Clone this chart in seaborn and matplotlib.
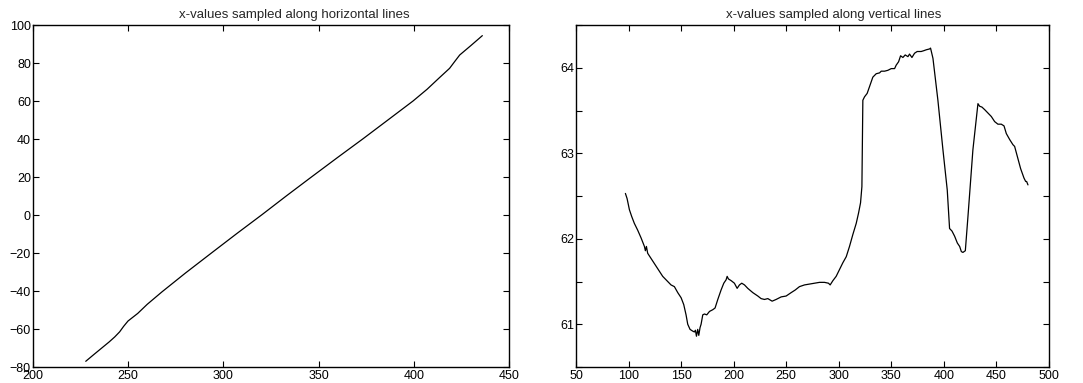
import numpy as np
import pandas as pd
import matplotlib
matplotlib.use("Agg")
import matplotlib.pyplot as plt
import seaborn as sns

# Samples along horizontal lines: column position vs. x-value
horiz_pos = [227.7, 232.0, 236.0, 240.0, 242.9, 245.5, 247.6, 249.9, 255.0, 260.0,
             267.8, 280.0, 294.5, 307.0, 320.3, 333.0, 345.3, 360.0, 373.3, 386.0,
             399.6, 407.0, 413.6, 418.8, 421.5, 424.1, 430.0, 436.0]
horiz_val = [-77.0, -73.4, -70.1, -66.8, -64.2, -61.5, -58.6, -55.8, -51.8, -47.0,
             -40.4, -30.6, -19.4, -9.8, 0.2, 10.0, 19.3, 30.3, 40.1, 49.7,
             60.0, 66.2, 72.4, 77.2, 80.8, 84.2, 89.2, 94.4]

# Samples along vertical lines: row position vs. x-value
vert_pos = [97.0, 98.6, 100.8, 103.0, 105.5, 108.7, 111.9, 115.1, 116.0, 117.0,
            118.2, 123.0, 127.8, 132.5, 137.3, 140.4, 143.6, 146.8, 150.0, 152.5,
            154.7, 156.3, 158.5, 161.0, 162.6, 163.6, 164.6, 165.8, 166.8, 168.0,
            169.0, 170.6, 172.2, 174.4, 177.0, 180.1, 182.3, 184.9, 188.0, 190.6,
            192.8, 193.8, 195.0, 197.6, 200.7, 203.3, 205.5, 207.7, 210.3, 213.4,
            218.2, 223.0, 226.1, 229.3, 232.5, 236.6, 240.4, 245.2, 249.9, 254.7,
            258.5, 262.6, 267.4, 272.2, 276.9, 281.7, 286.4, 290.2, 291.8, 294.4,
            297.5, 300.7, 303.9, 307.1, 310.2, 313.4, 316.6, 318.8, 320.7, 322.0,
            322.9, 324.5, 327.0, 329.3, 332.4, 335.6, 338.8, 340.4, 343.6, 346.7,
            349.9, 353.1, 354.6, 356.9, 358.8, 361.0, 363.2, 365.8, 367.3, 369.6,
            372.1, 374.6, 378.4, 381.0, 383.2, 386.4, 387.3, 389.6, 394.3, 399.1,
            403.2, 405.4, 407.7, 410.2, 412.8, 415.0, 416.6, 418.1, 420.4, 422.9,
            427.6, 432.4, 434.0, 436.2, 438.8, 441.9, 445.1, 448.3, 451.4, 454.6,
            457.2, 459.4, 462.6, 465.7, 467.3, 469.9, 473.0, 476.2, 477.8, 478.7,
            480.0]
vert_val = [62.53, 62.47, 62.34, 62.26, 62.18, 62.10, 62.01, 61.91, 61.86, 61.91,
            61.83, 61.74, 61.65, 61.56, 61.50, 61.46, 61.44, 61.37, 61.31, 61.23,
            61.11, 61.00, 60.94, 60.92, 60.91, 60.93, 60.86, 60.94, 60.87, 60.96,
            61.00, 61.11, 61.12, 61.11, 61.15, 61.17, 61.19, 61.29, 61.40, 61.48,
            61.52, 61.56, 61.53, 61.51, 61.48, 61.42, 61.46, 61.48, 61.46, 61.42,
            61.37, 61.33, 61.30, 61.29, 61.30, 61.27, 61.29, 61.32, 61.33, 61.37,
            61.40, 61.44, 61.46, 61.47, 61.48, 61.49, 61.49, 61.48, 61.46, 61.51,
            61.56, 61.64, 61.72, 61.79, 61.91, 62.05, 62.18, 62.30, 62.42, 62.61,
            63.62, 63.66, 63.70, 63.78, 63.89, 63.93, 63.94, 63.96, 63.96, 63.97,
            63.99, 63.99, 64.03, 64.07, 64.14, 64.12, 64.15, 64.13, 64.16, 64.12,
            64.17, 64.19, 64.19, 64.20, 64.21, 64.22, 64.23, 64.11, 63.62, 63.04,
            62.57, 62.12, 62.09, 62.03, 61.95, 61.91, 61.85, 61.84, 61.86, 62.26,
            63.04, 63.58, 63.55, 63.54, 63.51, 63.47, 63.43, 63.37, 63.34, 63.34,
            63.32, 63.23, 63.16, 63.10, 63.08, 62.96, 62.82, 62.71, 62.67, 62.67,
            62.63]

left_title = "x-values sampled along horizontal lines"
right_title = "x-values sampled along vertical lines"

left_xticks = [200, 250, 300, 350, 400, 450]
left_yticks = [-80, -60, -40, -20, 0, 20, 40, 60, 80, 100]
right_xticks = [50, 100, 150, 200, 250, 300, 350, 400, 450, 500]
right_yticks = [60.5, 61, 61.5, 62, 62.5, 63, 63.5, 64, 64.5]
right_ylabels = ["", "61", "", "62", "", "63", "", "64", ""]

sns.set_theme(style="white")
plt.rcParams["font.family"] = ["Liberation Sans", "DejaVu Sans"]

fig = plt.figure(figsize=(10.83, 3.83), dpi=100)
ax1 = fig.add_axes([33 / 1083, 1 - 367 / 383, 476 / 1083, 342 / 383])
ax2 = fig.add_axes([576 / 1083, 1 - 367 / 383, 473 / 1083, 342 / 383])

df_h = pd.DataFrame({"pos": horiz_pos, "val": horiz_val})
df_v = pd.DataFrame({"pos": vert_pos, "val": vert_val})

sns.lineplot(data=df_h, x="pos", y="val", ax=ax1, color="black",
             linewidth=0.9, sort=False, estimator=None)
sns.lineplot(data=df_v, x="pos", y="val", ax=ax2, color="black",
             linewidth=0.9, sort=False, estimator=None)

for ax in (ax1, ax2):
    ax.set_xlabel("")
    ax.set_ylabel("")
    for sp in ax.spines.values():
        sp.set_visible(True)
        sp.set_color("black")
        sp.set_linewidth(1.0)
    ax.tick_params(direction="in", length=4, width=0.8, colors="black",
                   top=True, right=True, bottom=True, left=True,
                   labelsize=9, pad=2)
    ax.tick_params(axis="y", pad=1.5)

ax1.set_xlim(200, 450)
ax1.set_ylim(-80, 100)
ax1.set_xticks(left_xticks)
ax1.set_yticks(left_yticks)
ax1.set_title(left_title, fontsize=9.5, pad=5, x=0.55)

ax2.set_xlim(50, 500)
ax2.set_ylim(60.5, 64.5)
ax2.set_xticks(right_xticks)
ax2.set_yticks(right_yticks)
ax2.set_yticklabels(right_ylabels)
ax2.set_title(right_title, fontsize=9.5, pad=5, x=0.545)

fig.savefig("out.png", dpi=100, facecolor="white")
